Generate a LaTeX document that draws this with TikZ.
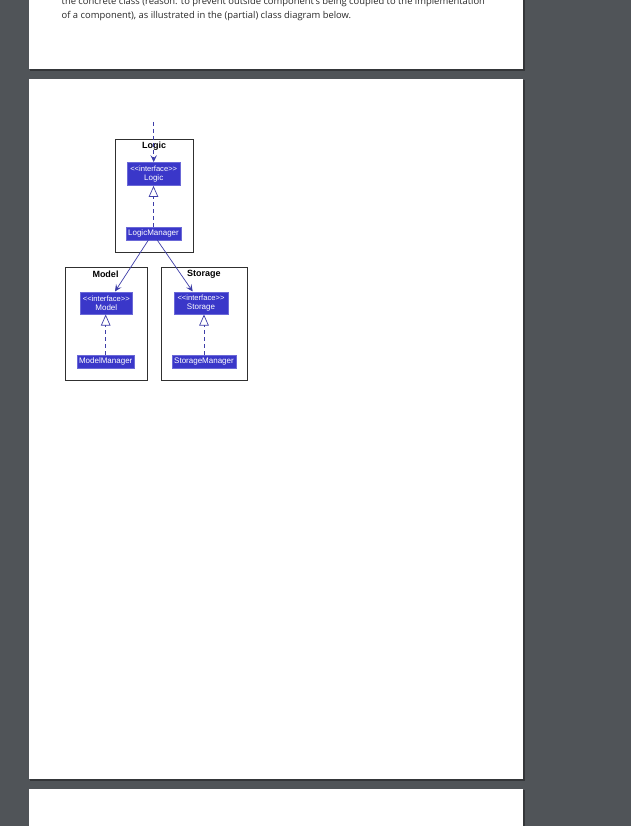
\documentclass[tikz,border=0pt]{standalone}
\usepackage{fontspec}
\setmainfont{Liberation Sans}
\newfontfamily\docfont{Open Sans}
\usetikzlibrary{arrows.meta}

\definecolor{viewer}{HTML}{505458}
\definecolor{classblue}{HTML}{3A37C9}
\definecolor{linkblue}{HTML}{3E3EA8}
\definecolor{pkgline}{HTML}{303030}
\definecolor{bodytext}{HTML}{2A2A2A}

\tikzset{
  sheet/.style={fill=white},
  bodyline/.style={anchor=base west, inner sep=0pt, text=bodytext, font=\docfont\fontsize{9.4}{11}\selectfont},
  package/.style={draw=pkgline, line width=0.9pt, fill=white, inner sep=0pt},
  pkglabel/.style={inner sep=0pt, font=\bfseries\fontsize{9}{10}\selectfont},
  class/.style={fill=classblue, draw=classblue!75!white, line width=0.4pt, text=white, inner sep=0pt, align=center, font=\fontsize{8}{9.4}\selectfont},
  uses/.style={draw=linkblue, line width=0.7pt, -{Stealth[length=7pt, width=6.5pt, inset=3pt]}},
  realizes/.style={draw=linkblue, line width=0.7pt, dash pattern=on 4pt off 3pt, -{Triangle[open, length=11pt, width=9.5pt]}}
}

\begin{document}
\begin{tikzpicture}[x=1pt, y=-1pt]
  \useasboundingbox (0,0) rectangle (631,826);
  \fill[viewer] (0,0) rectangle (631,826);

  \fill[black, opacity=0.35] (30,-5) rectangle (524.5,71);
  \fill[black, opacity=0.35] (30,80) rectangle (524.5,781);
  \fill[black, opacity=0.35] (30,789.5) rectangle (524.5,830);
  \fill[sheet] (29,-5) rectangle (523.3,69.4);
  \fill[sheet] (29,79.3) rectangle (523.3,779);
  \fill[sheet] (29,788.7) rectangle (523.3,830);

  \node[bodyline] (line1) at (61.5,4.7) {the concrete class (reason: to prevent outside component’s being coupled to the implementation};
  \node[bodyline] (line2) at (61.5,19) {of a component), as illustrated in the (partial) class diagram below.};

  \node[package, minimum width=78pt, minimum height=113pt] (logicPkg) at (154,195.5) {};
  \node[package, minimum width=82pt, minimum height=113.4pt] (modelPkg) at (106,324) {};
  \node[package, minimum width=86pt, minimum height=113.4pt] (storagePkg) at (204,324) {};

  \node[pkglabel] (logicLbl) at (154,146) {Logic};
  \node[pkglabel] (modelLbl) at (105.5,274.3) {Model};
  \node[pkglabel] (storageLbl) at (203.8,274.3) {Storage};

  \node[class, minimum width=52.7pt, minimum height=23.4pt] (logicIf) at (153.7,174) {{\fontsize{7.6}{9.4}\selectfont {<}{<}interface{>}{>}}\\Logic};
  \node[class, minimum width=55pt, minimum height=13pt] (logicMgr) at (153.5,233.5) {LogicManager};
  \node[class, minimum width=52.7pt, minimum height=22.6pt] (modelIf) at (106.3,303) {{\fontsize{7.6}{9.4}\selectfont {<}{<}interface{>}{>}}\\Model};
  \node[class, minimum width=56.7pt, minimum height=13.3pt] (modelMgr) at (105.7,361.7) {ModelManager};
  \node[class, minimum width=53.4pt, minimum height=22.6pt] (storageIf) at (201,303) {{\fontsize{7.6}{9.4}\selectfont {<}{<}interface{>}{>}}\\Storage};
  \node[class, minimum width=63.4pt, minimum height=13.3pt] (storageMgr) at (204,361.7) {StorageManager};

  \coordinate (logicIn) at (153.7,122);

  \draw[uses, dash pattern=on 4pt off 3pt] (logicIn) -- (logicIf.north);
  \draw[realizes] (logicMgr.north) -- (logicMgr.north |- logicIf.south);
  \draw[realizes] (modelMgr.north) -- (modelMgr.north |- modelIf.south);
  \draw[realizes] (storageMgr.north) -- (storageMgr.north |- storageIf.south);
  \draw[uses] ([xshift=-5.2pt]logicMgr.south) -- ([xshift=8.7pt]modelIf.north);
  \draw[uses] ([xshift=3.8pt]logicMgr.south) -- ([xshift=-8.3pt]storageIf.north);
\end{tikzpicture}
\end{document}
